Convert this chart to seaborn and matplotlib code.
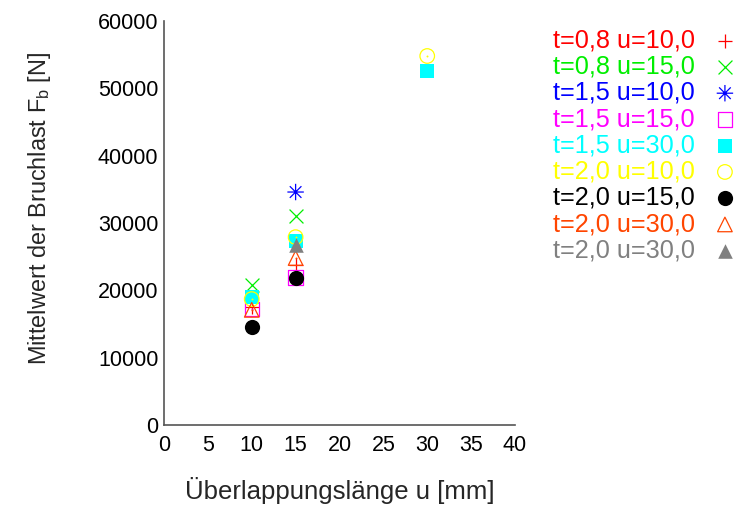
import numpy as np
import pandas as pd
import matplotlib
matplotlib.use("Agg")
import matplotlib.pyplot as plt
from matplotlib.path import Path
import seaborn as sns

# Series labels, colours and measured mean breaking loads
labels = ["t=0,8 u=10,0", "t=0,8 u=15,0", "t=1,5 u=10,0", "t=1,5 u=15,0",
          "t=1,5 u=30,0", "t=2,0 u=10,0", "t=2,0 u=15,0", "t=2,0 u=30,0",
          "t=2,0 u=30,0"]
colors = ["#ff0000", "#00ee00", "#0000ff", "#ff00ff", "#00ffff",
          "#ffff00", "#000000", "#ff4500", "#808080"]

u_plus = [10, 15]
f_plus = [17500, 23800]
u_cross = [10, 15]
f_cross = [20800, 31100]
u_star = [15]
f_star = [34600]
u_osq = [10, 15]
f_osq = [17200, 21900]
u_fsq = [10, 15, 30]
f_fsq = [19000, 27300, 52600]
u_ocirc = [10, 15, 30]
f_ocirc = [18700, 27900, 54800]
u_fcirc = [10, 15]
f_fcirc = [14500, 21800]
u_otri = [10, 15]
f_otri = [17100, 24800]
u_ftri = [15]
f_ftri = [26800]

xticks = [0, 5, 10, 15, 20, 25, 30, 35, 40]
yticks = [0, 10000, 20000, 30000, 40000, 50000, 60000]

sns.set_theme(style="white")
plt.rcParams["font.family"] = ["Liberation Sans", "DejaVu Sans"]
plt.rcParams["mathtext.fontset"] = "custom"
plt.rcParams["mathtext.rm"] = "Liberation Sans"
plt.rcParams["mathtext.it"] = "Liberation Sans"

# eight-ray asterisk marker
ast = Path([(-1, 0), (1, 0), (0, -1), (0, 1),
            (-0.7071, -0.7071), (0.7071, 0.7071),
            (-0.7071, 0.7071), (0.7071, -0.7071)],
           [Path.MOVETO, Path.LINETO] * 4)

series = [
    (u_plus, f_plus, "+", True, 110),
    (u_cross, f_cross, "x", True, 100),
    (u_star, f_star, ast, True, 140),
    (u_osq, f_osq, "s", False, 105),
    (u_fsq, f_fsq, "s", True, 110),
    (u_ocirc, f_ocirc, "o", False, 110),
    (u_fcirc, f_fcirc, "o", True, 120),
    (u_otri, f_otri, "^", False, 110),
    (u_ftri, f_ftri, "^", True, 110),
]

fig = plt.figure(figsize=(7.36, 5.07), dpi=100)
ax = fig.add_axes([0.2228, 0.1617, 0.4769, 0.7969])

handles = []
for (u, f, m, filled, s), lab, c in zip(series, labels, colors):
    df = pd.DataFrame({"u": u, "F": f})
    if m in ("+", "x") or m is ast:
        sns.scatterplot(data=df, x="u", y="F", ax=ax, marker=m, s=s,
                        color=c, linewidth=0.9, legend=False)
        if m is ast:
            ax.collections[-1].set_facecolor("none")
            ax.collections[-1].set_edgecolor(c)
        handles.append(ax.collections[-1])
    elif filled:
        sns.scatterplot(data=df, x="u", y="F", ax=ax, marker=m, s=s,
                        color=c, edgecolor=c, linewidth=0, legend=False)
        handles.append(ax.collections[-1])
    else:
        sns.scatterplot(data=df, x="u", y="F", ax=ax, marker=m, s=s,
                        facecolor="none", edgecolor=c, linewidth=0.9,
                        legend=False)
        handles.append(ax.collections[-1])
        sns.scatterplot(data=df, x="u", y="F", ax=ax, marker="o", s=2,
                        color=c, linewidth=0, legend=False)

ax.set_xlim(0, 40)
ax.set_ylim(0, 60000)
ax.set_xticks(xticks)
ax.set_yticks(yticks)
ax.set_xticklabels([str(v) for v in xticks])
ax.set_yticklabels([str(v) for v in yticks])
ax.tick_params(axis="both", direction="in", length=6, width=1,
               labelsize=15.5, colors="#555555", labelcolor="black")
ax.tick_params(axis="y", pad=4)
ax.tick_params(axis="x", pad=7)
for side in ("top", "right"):
    ax.spines[side].set_visible(False)
for side in ("left", "bottom"):
    ax.spines[side].set_color("#555555")
    ax.spines[side].set_linewidth(1.2)

ax.set_xlabel("Überlappungslänge u [mm]", fontsize=18.5, labelpad=15)
ax.set_ylabel(r"Mittelwert der Bruchlast F$_{\mathrm{b}}$ [N]", fontsize=16.9)
ax.yaxis.set_label_coords(-0.316, 0.537)

leg = fig.legend(handles, labels, loc="upper right",
                 bbox_to_anchor=(1.0296, 0.984), frameon=False,
                 markerfirst=False, fontsize=18.2, labelspacing=0.089,
                 handletextpad=0.69, handlelength=1.0, labelcolor=colors,
                 borderpad=0.3)

fig.savefig("out.png", dpi=100)
